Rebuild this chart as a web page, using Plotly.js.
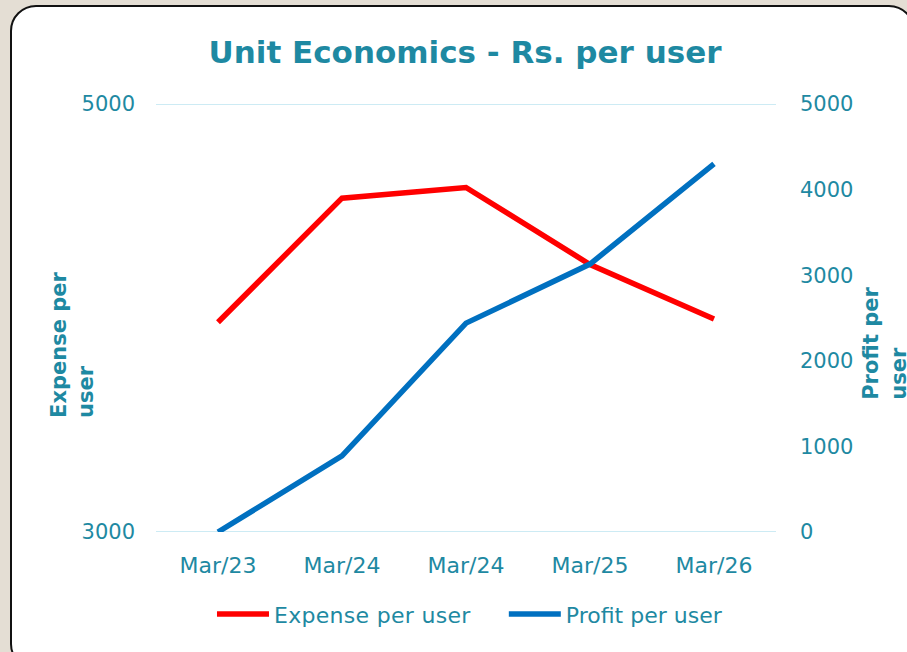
<!DOCTYPE html>
<html><head><meta charset="utf-8">
<script src="https://cdn.plot.ly/plotly-3.0.1.min.js"></script>
<style>
html,body{margin:0;padding:0;background:#e4ded4;width:907px;height:652px;overflow:hidden;}
#frame{position:absolute;left:10px;top:5px;width:905px;height:665px;border:2px solid #111;border-radius:26px;background:#fff;box-sizing:border-box;}
#chart{position:absolute;left:0;top:0;width:907px;height:652px;}
#chart .legendtext{letter-spacing:0.3px;}
</style></head>
<body>
<div id="frame"></div>
<div id="chart"></div>
<script>
const categories = ["Mar/23", "Mar/24", "Mar/24", "Mar/25", "Mar/26"];
const expensePerUser = [3980, 4560, 4610, 4250, 3995];
const profitPerUser = [0, 890, 2440, 3130, 4300];
const leftTicks = [3000, 5000];

const xIdx = categories.map((_, i) => i);
const teal = "#1e89a2";
const gridColor = "#cdebf4";
const font = "DejaVu Sans, Verdana, sans-serif";

const traces = [
  {x: xIdx, y: expensePerUser, name: "Expense per user", type: "scatter", mode: "lines",
   line: {color: "#ff0000", width: 5.5}, yaxis: "y", legend: "legend"},
  {x: xIdx, y: profitPerUser, name: "Profit per user", type: "scatter", mode: "lines",
   line: {color: "#0070c0", width: 5.5}, yaxis: "y2", legend: "legend2"}
];

const gridShapes = leftTicks.map(v => ({
  type: "line", xref: "paper", yref: "y", x0: 0, x1: 1, y0: v, y1: v, layer: "below",
  line: {color: gridColor, width: 2}
}));

const legendBase = {orientation: "h", xanchor: "left", y: -0.143, yanchor: "top", itemwidth: 52,
                    font: {family: font, size: 22, color: teal}, bgcolor: "rgba(0,0,0,0)"};

const layout = {
  width: 907, height: 652,
  paper_bgcolor: "rgba(0,0,0,0)", plot_bgcolor: "rgba(0,0,0,0)",
  margin: {l: 156, r: 131, t: 104, b: 120},
  font: {family: font, color: teal, size: 20},
  title: {text: "<b>Unit Economics - Rs. per user</b>", x: 0.5127, xanchor: "center", y: 1, yref: "paper", yanchor: "bottom",
          pad: {b: 41}, font: {family: font, size: 31, color: teal}},
  showlegend: true,
  legend: Object.assign({}, legendBase, {x: 0.0903}),
  legend2: Object.assign({}, legendBase, {x: 0.561}),
  xaxis: {range: [-0.5, 4.5], tickvals: xIdx, ticktext: categories, showgrid: false, zeroline: false,
          showline: false, ticks: "", tickfont: {size: 22, color: teal}, ticklabelstandoff: 18},
  yaxis: {range: [3000, 5000], tickvals: leftTicks, showgrid: false,
          zeroline: false, showline: false, ticks: "", tickfont: {size: 21, color: teal}, ticklabelstandoff: 20},
  yaxis2: {range: [0, 5000], dtick: 1000, overlaying: "y", side: "right", showgrid: false, zeroline: false,
           showline: false, ticks: "", tickfont: {size: 21, color: teal}, ticklabelstandoff: 23},
  shapes: gridShapes,
  annotations: [
    {text: "<b>Expense per<br>user</b>", textangle: -90, xref: "paper", yref: "paper", x: -0.134, y: 0.437,
     xanchor: "center", yanchor: "middle", align: "left", showarrow: false, font: {family: font, size: 21, color: teal}},
    {text: "<b>Profit per<br>user</b>", textangle: -90, xref: "paper", yref: "paper", x: 1.176, y: 0.44,
     xanchor: "center", yanchor: "middle", align: "left", showarrow: false, font: {family: font, size: 21, color: teal}}
  ]
};

Plotly.newPlot("chart", traces, layout, {displayModeBar: false, staticPlot: true});
</script>
</body></html>
